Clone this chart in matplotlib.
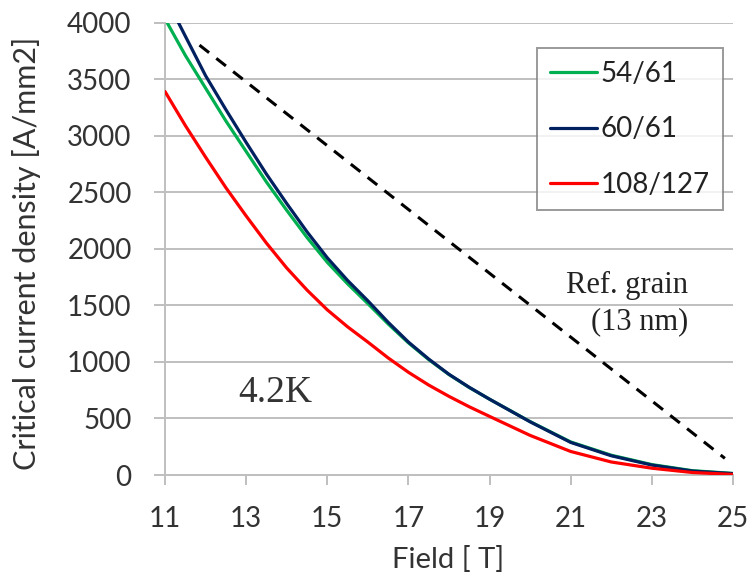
import matplotlib
matplotlib.use("Agg")
import matplotlib.pyplot as plt
from matplotlib.ticker import MultipleLocator

# Data
field_5461 = [11.05, 11.5, 12, 12.5, 13, 13.5, 14, 14.5, 15, 15.5, 16, 16.5, 17, 17.5, 18, 18.5, 19,
              20, 21, 22, 23, 24, 25]
jc_5461 = [4000, 3710, 3420, 3130, 2860, 2590, 2340, 2100, 1880, 1690, 1515, 1335, 1168, 1020, 888, 773, 670,
           472, 292, 175, 92, 38, 14]

field_6061 = [11.33, 11.5, 12, 12.5, 13, 13.5, 14, 14.5, 15, 15.5, 16, 16.5, 17, 17.5, 18, 18.5, 19,
              20, 21, 22, 23, 24, 25]
jc_6061 = [4000, 3880, 3530, 3230, 2940, 2660, 2400, 2150, 1920, 1720, 1540, 1350, 1175, 1025, 890, 775, 670,
           470, 288, 170, 88, 35, 12]

field_108127 = [11, 11.5, 12, 12.5, 13, 13.5, 14, 14.5, 15, 15.5, 16, 16.5, 17, 17.5, 18, 18.5, 19,
                20, 21, 22, 23, 24, 25]
jc_108127 = [3390, 3090, 2810, 2540, 2290, 2050, 1830, 1635, 1460, 1310, 1175, 1035, 908, 795, 695, 603, 518,
             350, 208, 115, 60, 22, 5]

ref_field = [11.85, 24.8]
ref_jc = [3800, 147]

x_ticks = [11, 13, 15, 17, 19, 21, 23, 25]
labels = ["54/61", "60/61", "108/127"]
colors = ["#00b050", "#002060", "#ff0000"]

W, H = 749, 574
fig = plt.figure(figsize=(W / 100, H / 100), dpi=100)
ax = fig.add_axes([165 / W, 1 - 475 / H, (733 - 165) / W, (475 - 22.5) / H])

grid_c = "#bfbfbf"
ax.set_xlim(11, 25)
ax.set_ylim(0, 4000)
ax.set_xticks(x_ticks)
ax.set_xticklabels([str(t) for t in x_ticks])
ax.yaxis.set_major_locator(MultipleLocator(500))
ax.grid(axis="y", color=grid_c, linewidth=1.4, zorder=0)
ax.set_axisbelow(True)
for s in ["top", "right"]:
    ax.spines[s].set_visible(False)
for s in ["left", "bottom"]:
    ax.spines[s].set_color(grid_c)
    ax.spines[s].set_linewidth(1.4)

ax.tick_params(axis="y", direction="out", length=8, width=1.4, color=grid_c,
               pad=16, labelsize=20, labelcolor="#333333")
ax.tick_params(axis="x", direction="out", length=7, width=1.4, color=grid_c,
               pad=15, labelsize=20, labelcolor="#333333")
for lab in ax.get_xticklabels() + ax.get_yticklabels():
    lab.set_family("Lato")

series = [(field_5461, jc_5461), (field_6061, jc_6061), (field_108127, jc_108127)]
handles = []
for (xs, ys), lab, c in zip(series, labels, colors):
    h, = ax.plot(xs, ys, color=c, linewidth=2.3, label=lab, zorder=3,
                 solid_capstyle="round", solid_joinstyle="round")
    handles.append(h)

ax.plot(ref_field, ref_jc, color="black", linestyle=(0, (4, 3)), linewidth=2.2, zorder=3)

leg = ax.legend(handles=handles, loc="upper left",
                bbox_to_anchor=(537 / W, 1 - 48 / H), bbox_transform=fig.transFigure,
                borderaxespad=0, frameon=True, fancybox=False,
                prop={"family": "Lato", "size": 20},
                handlelength=1.7, handletextpad=0.15, labelspacing=1.07,
                borderpad=0.45)
leg.get_frame().set_edgecolor("#808080")
leg.get_frame().set_linewidth(1.4)
for t in leg.get_texts():
    t.set_color("#222222")

fig.text(688 / W, 1 - 285 / H, "Ref. grain", family="Liberation Serif", size=22,
         ha="right", va="center", color="#222222")
fig.text(688 / W, 1 - 322 / H, "(13 nm)", family="Liberation Serif", size=22,
         ha="right", va="center", color="#222222")
fig.text(275 / W, 1 - 393 / H, "4.2K", family="Liberation Serif", size=27,
         ha="center", va="center", color="#333333")

fig.text(27 / W, 1 - 470 / H, "Critical current density [A/mm2]", family="Lato",
         size=22, rotation=90, ha="center", va="bottom", color="#333333")
fig.text(448 / W, 1 - 559 / H, "Field [ T]", family="Lato", size=21,
         ha="center", va="center", color="#333333")

fig.savefig("out.png", dpi=100)
